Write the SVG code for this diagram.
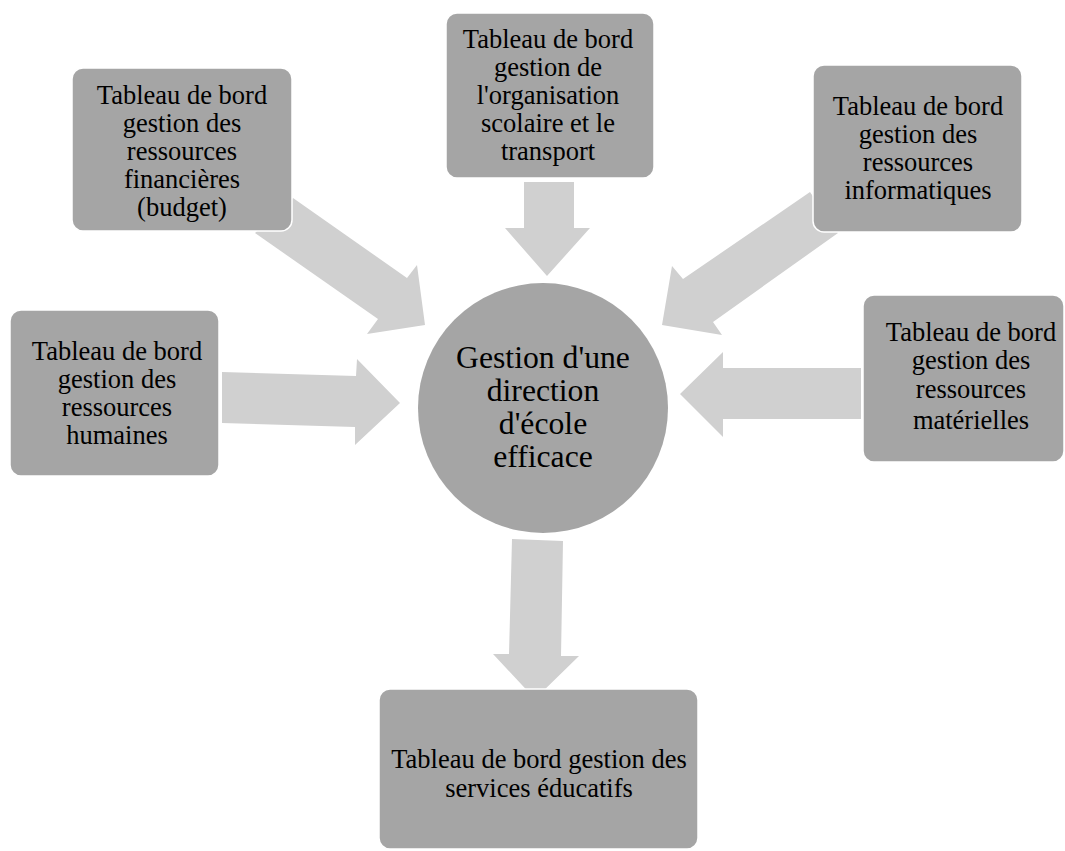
<svg xmlns="http://www.w3.org/2000/svg" width="1065" height="851" viewBox="0 0 1065 851">
  <style>
    .box { fill: #a5a5a5; stroke: #ffffff; stroke-width: 1.5; }
    .arrow { fill: #d0d0d0; stroke: none; }
    .lbl { font-family: 'Liberation Serif', Tinos, 'Times New Roman', 'DejaVu Serif', serif; font-size: 26.5px; fill: #000000; text-anchor: middle; }
    .hub { font-family: 'Liberation Serif', Tinos, 'Times New Roman', 'DejaVu Serif', serif; font-size: 31.7px; fill: #000000; text-anchor: middle; }
  </style>
  <rect width="1065" height="851" fill="#ffffff"/>

  <!-- block arrows -->
  <g id="connectors">
    <!-- finances -> centre -->
    <polygon class="arrow" points="255,233 293,198 407,278 417,265 425,325 367,334 378,319"/>
    <!-- organisation scolaire -> centre -->
    <polygon class="arrow" points="524,182 574,182 574,228 590,228 547,276 505,228 524,228"/>
    <!-- informatique -> centre -->
    <polygon class="arrow" points="810,192 838,233 713,322 722,335 662,325 672,266 683,279"/>
    <!-- ressources humaines -> centre -->
    <polygon class="arrow" points="222,372 356,376 357,359 400,403 355,445 355,427 222,423"/>
    <!-- ressources matérielles -> centre -->
    <polygon class="arrow" points="861,368 861,419 723,419 723,437 680,394 723,352 723,368"/>
    <!-- centre -> services éducatifs -->
    <polygon class="arrow" points="512,539 563,541 561,656 579,656 535,699 493,654 509,654"/>
  </g>

  <g id="hub">
    <circle cx="543" cy="408" r="125" fill="#a5a5a5"/>
    <text class="hub" x="543" y="368">Gestion d'une</text>
    <text class="hub" x="543" y="401">direction</text>
    <text class="hub" x="543" y="434">d'école</text>
    <text class="hub" x="543" y="467">efficace</text>
  </g>

  <g id="finances">
    <rect class="box" x="72" y="68" width="220" height="163" rx="11"/>
    <text class="lbl" x="182" y="104">Tableau de bord</text>
    <text class="lbl" x="182" y="132">gestion des</text>
    <text class="lbl" x="182" y="160">ressources</text>
    <text class="lbl" x="182" y="188">financières</text>
    <text class="lbl" x="182" y="216">(budget)</text>
  </g>

  <g id="organisation">
    <rect class="box" x="446" y="13" width="208" height="165" rx="11"/>
    <text class="lbl" x="548" y="48">Tableau de bord</text>
    <text class="lbl" x="548" y="76">gestion de</text>
    <text class="lbl" x="548" y="104">l'organisation</text>
    <text class="lbl" x="548" y="132">scolaire et le</text>
    <text class="lbl" x="548" y="160">transport</text>
  </g>

  <g id="informatique">
    <rect class="box" x="813" y="65" width="209" height="167" rx="11"/>
    <text class="lbl" x="918" y="115">Tableau de bord</text>
    <text class="lbl" x="918" y="143">gestion des</text>
    <text class="lbl" x="918" y="171">ressources</text>
    <text class="lbl" x="918" y="199">informatiques</text>
  </g>

  <g id="humaines">
    <rect class="box" x="10" y="310" width="209" height="166" rx="11"/>
    <text class="lbl" x="117" y="360">Tableau de bord</text>
    <text class="lbl" x="117" y="388">gestion des</text>
    <text class="lbl" x="117" y="416">ressources</text>
    <text class="lbl" x="117" y="444">humaines</text>
  </g>

  <g id="materielles">
    <rect class="box" x="863" y="295" width="201" height="167" rx="11"/>
    <text class="lbl" x="971" y="341">Tableau de bord</text>
    <text class="lbl" x="971" y="369">gestion des</text>
    <text class="lbl" x="971" y="398">ressources</text>
    <text class="lbl" x="971" y="429">matérielles</text>
  </g>

  <g id="services">
    <rect class="box" x="379" y="689" width="319" height="160" rx="11"/>
    <text class="lbl" x="539" y="768">Tableau de bord gestion des</text>
    <text class="lbl" x="539" y="797">services éducatifs</text>
  </g>
</svg>
